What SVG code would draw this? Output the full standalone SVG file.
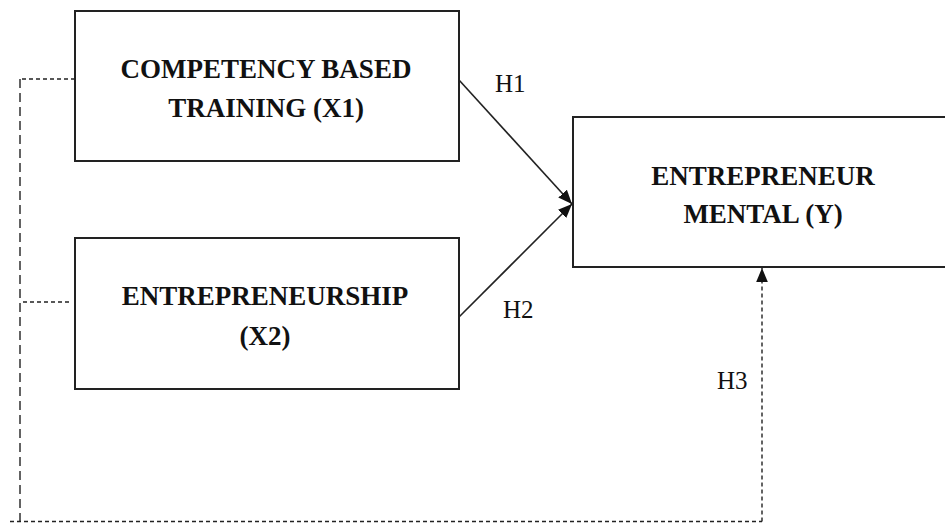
<svg xmlns="http://www.w3.org/2000/svg" width="945" height="523" viewBox="0 0 945 523">
<style>
.box{fill:#fff;stroke:#222;stroke-width:2}
.lbl{font-family:"Liberation Serif","Times New Roman",serif;font-weight:bold;font-size:27px;fill:#111;text-anchor:middle}
.h{font-family:"Liberation Serif","Times New Roman",serif;font-size:25px;fill:#111}
.solid{stroke:#222;stroke-width:1.6;fill:none}
.dash{stroke:#222;stroke-width:1.4;fill:none;stroke-dasharray:4 3}
.dashv{stroke:#222;stroke-width:1.4;fill:none;stroke-dasharray:9 5}
</style>
<defs>
<marker id="arr" viewBox="0 0 12 10" refX="12" refY="5" markerWidth="14" markerHeight="12" markerUnits="userSpaceOnUse" orient="auto">
<path d="M0,0 L12,5 L0,10 Z" fill="#111"/>
</marker>
</defs>
<g id="connectors">
<line class="solid" x1="459" y1="80" x2="572" y2="204" marker-end="url(#arr)"/>
<line class="solid" x1="459" y1="317" x2="572" y2="204" marker-end="url(#arr)"/>
<path class="dash" d="M75,79 H20"/>
<path class="dash" d="M69,302 H20"/>
<path class="dashv" d="M20,79 V521"/>
<path class="dash" d="M10,521.5 H762"/>
<path class="dash" d="M762,521.5 V268" marker-end="url(#arr)"/>
<text class="h" x="495" y="92">H1</text>
<text class="h" x="503" y="318">H2</text>
<text class="h" x="717" y="389">H3</text>
</g>
<g id="x1">
<rect class="box" x="75" y="11" width="384" height="150"/>
<text class="lbl" x="266" y="78">COMPETENCY BASED</text>
<text class="lbl" x="266" y="117">TRAINING (X1)</text>
</g>
<g id="x2">
<rect class="box" x="75" y="238" width="384" height="151"/>
<text class="lbl" x="265" y="305">ENTREPRENEURSHIP</text>
<text class="lbl" x="265" y="345">(X2)</text>
</g>
<g id="y">
<rect class="box" x="573" y="117" width="380" height="150"/>
<text class="lbl" x="763" y="185">ENTREPRENEUR</text>
<text class="lbl" x="763" y="223">MENTAL (Y)</text>
</g>
</svg>
